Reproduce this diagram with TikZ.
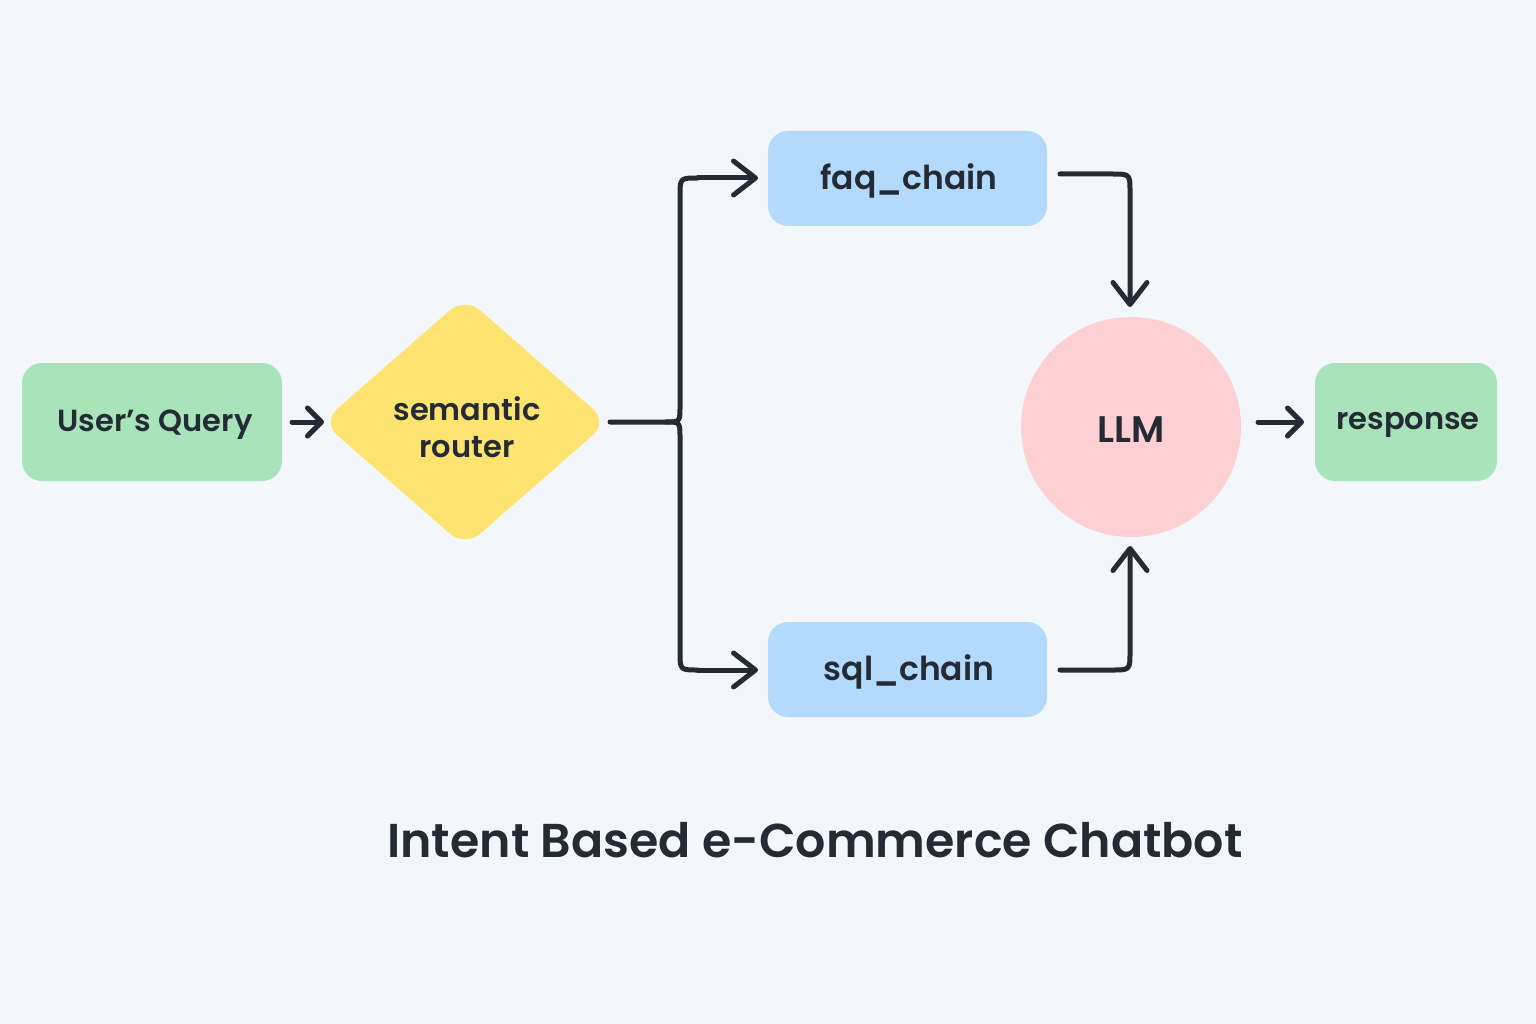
\documentclass[tikz,border=0pt]{standalone}
\usepackage{fontspec}
\setmainfont{Poppins}[UprightFont=* SemiBold, BoldFont=* SemiBold]
\usetikzlibrary{shapes.geometric,arrows.meta}
\definecolor{bgc}{HTML}{F3F7FB}
\definecolor{inkc}{HTML}{252B34}
\definecolor{greenc}{HTML}{A8E3B9}
\definecolor{yellowc}{HTML}{FFE370}
\definecolor{bluec}{HTML}{B3DAFC}
\definecolor{pinkc}{HTML}{FFD0D3}
\tikzset{
  boxnode/.style={rectangle, rounded corners=20pt, inner sep=0pt, text=inkc},
  labeltext/.style={text=inkc, align=center, font=\fontsize{30.5}{37}\selectfont},
  chaintext/.style={text=inkc, font=\fontsize{33}{38}\selectfont},
  bigarr/.style={draw=inkc, line width=5pt, line cap=round, line join=round, -{Straight Barb[length=22pt,width=34pt,line cap=round,line join=round]}},
  smallarr/.style={draw=inkc, line width=5pt, line cap=round, line join=round, -{Straight Barb[length=14pt,width=28pt,line cap=round,line join=round]}},
  plainline/.style={draw=inkc, line width=5pt, line cap=round, line join=round},
}
\begin{document}
\begin{tikzpicture}[x=1pt,y=-1pt]
\fill[bgc] (0,0) rectangle (1536,1024);
\useasboundingbox (0,0) rectangle (1536,1024);
% nodes
\node[boxnode, fill=greenc, minimum width=260pt, minimum height=118pt] (user) at (152,422) {};
\node[labeltext] (usertext) at (155,425) {User’s Query};
\node[diamond, fill=yellowc, rounded corners=20pt, minimum width=286pt, minimum height=250pt, inner sep=0pt] (router) at (465,422) {};
\node[labeltext] (routertext) at (467,427) {semantic\\router};
\node[boxnode, fill=bluec, minimum width=279pt, minimum height=95pt] (faq) at (907.5,178.5) {};
\node[chaintext] (faqtext) at (909,181) {faq\_chain};
\node[boxnode, fill=bluec, minimum width=279pt, minimum height=95pt] (sql) at (907.5,669.5) {};
\node[chaintext] (sqltext) at (909,672) {sql\_chain};
\node[circle, fill=pinkc, minimum size=220pt, inner sep=0pt] (llm) at (1131,427) {};
\node[text=inkc, font=\fontsize{37}{42}\selectfont] (llmtext) at (1131,430) {LLM};
\node[boxnode, fill=greenc, minimum width=182pt, minimum height=118pt] (resp) at (1406,422) {};
\node[labeltext] (resptext) at (1408,425) {response};
\node[text=inkc, font=\fontsize{47.5}{54}\selectfont] (title) at (815,840) {Intent Based e-Commerce Chatbot};
% coordinates
\coordinate (us) at (292,422);
\coordinate (ri) at (324,422);
\coordinate (rs) at (610,422);
\coordinate (faqin) at (758,178);
\coordinate (sqlin) at (758,670);
\coordinate (faqout) at (1060,174);
\coordinate (sqlout) at (1060,670);
\coordinate (llmtop) at (1130,307);
\coordinate (llmbot) at (1130,546);
\coordinate (ls) at (1258,422);
\coordinate (re) at (1304,422);
% connectors
\draw[smallarr] (us) -- (ri);
\draw[plainline] (rs) -- (666,422) .. controls (680,422) .. (680,406) -- (680,196) .. controls (680,178) .. (698,178);
\draw[plainline] (666,422) .. controls (680,422) .. (680,438) -- (680,652) .. controls (680,670) .. (698,670);
\draw[bigarr] (698,178) -- (faqin);
\draw[bigarr] (698,670) -- (sqlin);
\draw[bigarr] (faqout) -- (1112,174) .. controls (1130,174) .. (1130,192) -- (llmtop);
\draw[bigarr] (sqlout) -- (1112,670) .. controls (1130,670) .. (1130,652) -- (llmbot);
\draw[smallarr] (ls) -- (re);
\end{tikzpicture}
\end{document}
